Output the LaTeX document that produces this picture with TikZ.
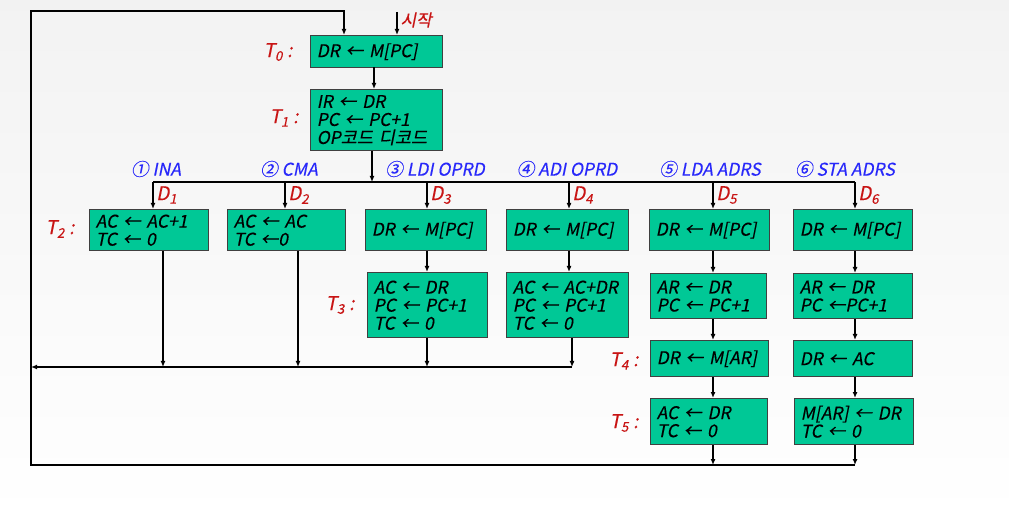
\documentclass[tikz,border=0pt]{standalone}
\usepackage{fontspec}
\setmainfont{Noto Sans CJK KR}[FakeSlant=0.2, FakeBold=0.25]
\usetikzlibrary{arrows.meta}
\definecolor{boxgreen}{RGB}{0,200,150}
\definecolor{tred}{RGB}{200,20,20}
\definecolor{opblue}{RGB}{40,40,250}
\tikzset{
  op/.style 2 args={draw=black!75, line width=1.4pt, fill=boxgreen, anchor=north west,
    align=left, inner xsep=6pt, inner ysep=0pt, text width=#1pt-12pt, minimum height=#2pt,
    font=\fontsize{17.5}{18}\selectfont},
  wire/.style={line width=1.8pt},
  arr/.style={wire, -{Latex[length=6pt,width=5pt]}},
  tlab/.style={text=tred, inner sep=1pt, font=\fontsize{19}{20}\selectfont},
  dlab/.style={text=tred, inner sep=1pt, anchor=west, font=\fontsize{19}{20}\selectfont},
  oplab/.style={text=opblue, inner sep=1pt, font=\fontsize{17.5}{18}\selectfont},
}
\begin{document}
\begin{tikzpicture}[x=1pt, y=-1pt]
    \shade[top color=black!5, bottom color=white] (0,0) rectangle (1009,518);
    \useasboundingbox (0,0) rectangle (1009,518);
    % fetch
    \node[op={132}{32}] (t0) at (310,35) {DR ← M[PC]};
    \node[op={132}{61}] (t1) at (310,89) {IR ← DR\\PC ← PC+1\\OP코드 디코드};
    \node[tlab] (lt0) at (278,52) {T\textsubscript{0} :};
    \node[tlab] (lt1) at (284,118) {T\textsubscript{1} :};
    \coordinate (fetch) at (374,67);
    \draw[arr] (fetch) -- (fetch |- t1.north);
    \coordinate (start) at (397,12);
    \draw[arr] (start) -- (start |- t0.north);
    \node[text=tred, anchor=west, font=\fontsize{17}{18}\selectfont] (startlab) at (397,20) {시작};
    % decode bus
    \coordinate (dec) at (372,182);
    \draw[arr] (t1.south -| dec) -- (dec);
    \coordinate (d1) at (153,182);
    \coordinate (d2) at (285,182);
    \coordinate (d3) at (427,182);
    \coordinate (d4) at (569,182);
    \coordinate (d5) at (713,182);
    \coordinate (d6) at (855,182);
    \draw[wire] (d1) -- (d6);
    \node[oplab] (o1) at (156,169) {① INA};
    \node[oplab] (o2) at (289,169) {② CMA};
    \node[oplab] (o3) at (435,169) {③ LDI OPRD};
    \node[oplab] (o4) at (567,169) {④ ADI OPRD};
    \node[oplab] (o5) at (710,169) {⑤ LDA ADRS};
    \node[oplab] (o6) at (845,169) {⑥ STA ADRS};
    \node[dlab] at (155,195) {D\textsubscript{1}};
    \node[dlab] at (287,195) {D\textsubscript{2}};
    \node[dlab] at (429,195) {D\textsubscript{3}};
    \node[dlab] at (571,195) {D\textsubscript{4}};
    \node[dlab] at (715,195) {D\textsubscript{5}};
    \node[dlab] at (857,195) {D\textsubscript{6}};
    % T2
    \node[tlab] (lt2) at (60,229) {T\textsubscript{2} :};
    \node[op={119}{41}] (a2) at (89,209) {AC ← AC+1\\TC ← 0};
    \node[op={118}{41}] (b2) at (227,209) {AC ← AC\\TC ←0};
    \node[op={121}{41}] (c2) at (365,209) {DR ← M[PC]};
    \node[op={122}{41}] (e2) at (506,209) {DR ← M[PC]};
    \node[op={120}{41}] (f2) at (649,209) {DR ← M[PC]};
    \node[op={119}{41}] (g2) at (793,209) {DR ← M[PC]};
    \draw[arr] (d1) -- (d1 |- a2.north);
    \draw[arr] (d2) -- (d2 |- b2.north);
    \draw[arr] (d3) -- (d3 |- c2.north);
    \draw[arr] (d4) -- (d4 |- e2.north);
    \draw[arr] (d5) -- (d5 |- f2.north);
    \draw[arr] (d6) -- (d6 |- g2.north);
    % T3
    \node[tlab] (lt3) at (340,305) {T\textsubscript{3} :};
    \node[op={120}{65}] (c3) at (367,272) {AC ← DR\\PC ← PC+1\\TC ← 0};
    \node[op={122}{65}] (e3) at (506,272) {AC ← AC+DR\\PC ← PC+1\\TC ← 0};
    \node[op={116}{45}] (f3) at (650,273) {AR ← DR\\PC ← PC+1};
    \node[op={119}{45}] (g3) at (793,273) {AR ← DR\\PC ←PC+1};
    \draw[arr] (d3 |- c2.south) -- (d3 |- c3.north);
    \draw[arr] (d4 |- e2.south) -- (d4 |- e3.north);
    \draw[arr] (d5 |- f2.south) -- (d5 |- f3.north);
    \draw[arr] (d6 |- g2.south) -- (d6 |- g3.north);
    % T4
    \node[tlab] (lt4) at (624,361) {T\textsubscript{4} :};
    \node[op={118}{36}] (f4) at (650,340) {DR ← M[AR]};
    \node[op={119}{36}] (g4) at (793,340) {DR ← AC};
    \draw[arr] (d5 |- f3.south) -- (d5 |- f4.north);
    \draw[arr] (d6 |- g3.south) -- (d6 |- g4.north);
    % T5
    \node[tlab] (lt5) at (624,423) {T\textsubscript{5} :};
    \node[op={117}{46}] (f5) at (650,398) {AC ← DR\\TC ← 0};
    \node[op={119}{46}] (g5) at (794,398) {M[AR] ← DR\\TC ← 0};
    \draw[arr] (d5 |- f4.south) -- (d5 |- f5.north);
    \draw[arr] (d6 |- g4.south) -- (d6 |- g5.north);
    % return buses
    \coordinate (r1) at (31,367);
    \coordinate (r2) at (31,465);
    \coordinate (top) at (31,11);
    \coordinate (loop) at (344,11);
    \coordinate (ret1) at (163,367);
    \coordinate (ret2) at (298,367);
    \coordinate (ret3) at (427,367);
    \coordinate (ret4) at (572,367);
    \draw[arr] (ret1 |- a2.south) -- (ret1);
    \draw[arr] (ret2 |- b2.south) -- (ret2);
    \draw[arr] (ret3 |- c3.south) -- (ret3);
    \draw[arr] (ret4 |- e3.south) -- (ret4);
    \draw[arr] (ret4) -- (r1);
    \draw[arr] (d5 |- f5.south) -- (d5 |- r2);
    \draw[arr] (d6 |- g5.south) -- (d6 |- r2);
    \draw[arr] (d6 |- r2) -- (r2) -- (top) -- (loop) -- (loop |- t0.north);
\end{tikzpicture}
\end{document}
